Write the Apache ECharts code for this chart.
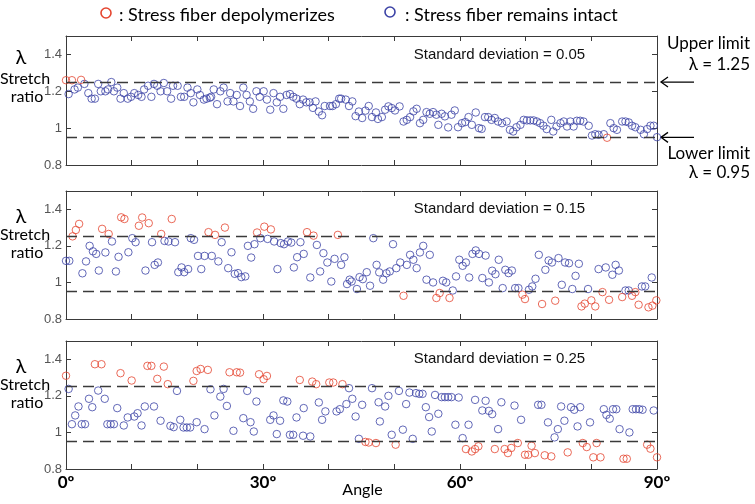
<!DOCTYPE html>
<html><head><meta charset="utf-8">
<script src="https://cdn.jsdelivr.net/npm/echarts@6/dist/echarts.min.js"></script>
<style>html,body{margin:0;padding:0;background:#fff}#c{width:755px;height:504px}</style>
</head><body><div id="c"></div><script>
// ---- data (angle in degrees, stretch ratio λ) ----
const upperLimit = 1.25;
const lowerLimit = 0.95;
const stdLabels = ['Standard deviation = 0.05', 'Standard deviation = 0.15', 'Standard deviation = 0.25'];
const angleTickLabels = ['0º', '30º', '60º', '90º'];
const legendLabels = [': Stress fiber depolymerizes', ': Stress fiber remains intact'];

const p1Red = [[0,1.26],[0.9,1.26],[2.3,1.262],[82.4,0.948]];
const p1Blue = [[0.4,1.185],[1.3,1.21],[1.8,1.22],[2.8,1.24],[3.4,1.19],[3.9,1.16],[4.4,1.16],[4.9,1.24],[5.3,1.2],[6.0,1.2],[6.4,1.21],[6.9,1.25],[7.3,1.2],[7.8,1.22],[8.3,1.16],[8.8,1.19],[9.4,1.16],[9.9,1.17],[10.4,1.19],[11.0,1.18],[11.5,1.17],[11.9,1.21],[12.5,1.23],[13.0,1.17],[13.4,1.24],[13.9,1.23],[14.4,1.2],[14.9,1.245],[15.4,1.2],[16.0,1.16],[16.3,1.23],[17.0,1.23],[17.5,1.17],[18.0,1.17],[18.5,1.22],[19.0,1.19],[19.4,1.14],[20.0,1.21],[20.4,1.18],[21.0,1.155],[21.4,1.16],[21.9,1.165],[22.1,1.17],[22.5,1.21],[23.0,1.13],[23.5,1.2],[24.0,1.22],[24.6,1.145],[25.0,1.19],[25.5,1.145],[26.0,1.18],[26.5,1.12],[27.0,1.22],[27.5,1.18],[28.0,1.145],[28.5,1.105],[29.0,1.2],[29.5,1.17],[30.1,1.2],[30.6,1.155],[31.1,1.1],[31.6,1.19],[32.1,1.14],[32.6,1.17],[33.1,1.105],[33.6,1.18],[34.1,1.185],[34.6,1.17],[35.1,1.16],[35.6,1.13],[36.1,1.155],[36.6,1.14],[37.1,1.14],[37.6,1.11],[38.0,1.145],[38.5,1.09],[39.0,1.07],[39.4,1.12],[40.2,1.12],[40.6,1.12],[41.1,1.13],[41.6,1.16],[41.9,1.16],[42.6,1.155],[43.1,1.12],[43.6,1.145],[44.1,1.065],[44.6,1.09],[45.1,1.055],[45.6,1.095],[46.1,1.12],[46.6,1.06],[47.2,1.085],[47.5,1.05],[48.1,1.06],[48.6,1.1],[49.1,1.118],[49.6,1.109],[50.1,1.096],[50.8,1.118],[51.4,1.036],[51.9,1.045],[52.4,1.06],[52.9,1.091],[53.4,1.105],[53.9,1.027],[54.4,1.045],[54.9,1.087],[55.4,1.078],[55.9,1.087],[56.4,1.073],[56.7,1.018],[57.2,1.078],[57.7,1.064],[58.2,1.004],[58.7,1.073],[59.2,1.096],[59.7,1.005],[60.3,1.027],[60.8,1.033],[61.3,1.06],[61.8,1.018],[62.4,1.085],[62.9,1.0],[63.3,0.996],[63.8,1.06],[64.3,1.06],[64.8,1.045],[65.3,1.055],[65.8,1.036],[66.4,1.027],[67.1,1.036],[67.6,0.991],[68.1,0.982],[68.6,1.005],[69.2,1.018],[69.7,1.045],[70.2,1.042],[70.7,1.042],[71.2,1.042],[71.7,1.036],[72.2,1.027],[72.7,1.013],[73.2,0.995],[73.9,1.045],[74.2,0.982],[74.7,1.009],[75.3,1.027],[75.8,1.036],[76.3,1.009],[76.8,1.036],[77.3,1.009],[77.8,1.04],[78.3,1.04],[78.8,1.036],[79.6,1.013],[80.1,0.96],[80.6,0.967],[81.1,0.964],[81.9,0.967],[82.9,1.027],[83.4,1.0],[83.9,0.991],[84.7,1.036],[85.2,1.036],[85.7,1.031],[86.2,1.013],[86.7,1.005],[87.5,0.991],[88.0,0.967],[88.5,0.995],[89.0,1.013],[89.5,1.013],[90.0,0.951]];

const p2Red = [[1.0,1.252],[1.5,1.287],[2.0,1.32],[5.5,1.293],[6.5,1.265],[8.4,1.356],[8.9,1.347],[11.1,1.31],[11.6,1.355],[12.6,1.324],[14.5,1.265],[16.1,1.347],[21.7,1.275],[22.7,1.26],[24.2,1.3],[29.1,1.273],[30.2,1.305],[31.2,1.29],[36.7,1.275],[37.7,1.256],[41.4,1.26],[51.4,0.927],[56.4,0.915],[56.9,0.942],[58.4,0.915],[69.5,0.933],[69.9,0.909],[72.5,0.882],[74.5,0.9],[78.5,0.869],[79.0,0.884],[80.0,0.902],[80.6,0.869],[81.7,0.947],[82.7,0.905],[84.7,0.92],[86.2,0.927],[86.7,0.947],[87.2,0.878],[88.7,0.864],[89.3,0.873],[89.9,0.902]];
const p2Blue = [[0,1.118],[0.5,1.118],[2.5,1.05],[3.05,1.115],[3.6,1.2],[4.1,1.17],[4.6,1.156],[5.0,1.065],[6.0,1.164],[7.0,1.224],[7.6,1.06],[8.0,1.14],[9.5,1.165],[10.1,1.242],[10.6,1.22],[12.1,1.065],[13.1,1.22],[13.5,1.096],[14.0,1.109],[15.0,1.227],[15.6,1.224],[16.6,1.22],[17.1,1.056],[17.6,1.082],[18.0,1.056],[18.6,1.073],[19.0,1.242],[19.5,1.233],[20.1,1.145],[20.6,1.073],[21.1,1.145],[22.2,1.145],[23.2,1.115],[23.7,1.22],[24.7,1.078],[25.2,1.165],[25.7,1.047],[26.2,1.051],[26.7,1.029],[27.3,1.033],[27.7,1.2],[28.2,1.136],[28.7,1.209],[29.6,1.242],[30.7,1.238],[31.7,1.224],[32.2,1.073],[32.7,1.215],[33.2,1.209],[33.8,1.224],[34.3,1.218],[34.7,1.082],[35.2,1.138],[35.7,1.22],[36.2,1.156],[37.2,1.027],[38.2,1.205],[38.7,1.06],[39.2,1.16],[39.8,1.109],[40.4,1.005],[40.9,1.129],[41.9,1.096],[42.4,1.138],[42.8,0.991],[43.2,1.015],[43.5,1.005],[44.3,0.964],[44.7,1.029],[45.2,1.018],[45.8,1.056],[46.3,0.982],[46.8,1.242],[47.3,1.096],[47.7,1.055],[48.3,1.015],[48.8,1.05],[49.3,1.06],[49.8,1.209],[50.3,1.078],[50.9,1.109],[51.9,1.096],[52.4,1.151],[52.9,1.124],[53.4,1.078],[53.9,1.164],[54.4,1.2],[54.9,1.015],[55.4,1.151],[55.9,1.0],[57.4,1.009],[57.9,1.0],[58.9,0.956],[59.4,1.033],[59.9,1.124],[60.4,1.091],[60.9,1.109],[61.4,1.027],[61.9,1.156],[62.4,1.175],[62.9,1.156],[63.4,1.024],[63.9,1.147],[64.4,1.0],[64.9,1.064],[65.4,1.045],[65.9,1.124],[66.5,0.969],[66.9,1.069],[67.4,1.051],[67.9,1.065],[68.4,0.969],[68.9,0.969],[70.5,0.96],[71.0,0.978],[71.5,1.02],[72.0,1.151],[73.0,1.069],[73.5,1.12],[74.0,1.109],[75.0,1.133],[75.5,0.987],[76.0,1.109],[76.6,1.105],[77.1,0.964],[77.6,1.036],[78.1,1.102],[79.5,0.964],[81.1,1.073],[82.2,1.082],[83.2,1.042],[83.7,1.096],[84.2,1.065],[85.2,0.956],[85.7,0.956],[87.7,0.978],[88.2,0.978],[89.2,1.027]];

const p3Red = [[0,1.31],[4.4,1.373],[5.4,1.373],[8.3,1.324],[10.0,1.284],[12.4,1.364],[13.0,1.364],[13.9,1.293],[14.9,1.36],[15.5,1.264],[19.4,1.282],[19.9,1.336],[20.5,1.347],[21.6,1.342],[24.9,1.329],[26.0,1.329],[26.5,1.327],[29.4,1.318],[30.1,1.291],[30.6,1.309],[35.6,1.287],[37.5,1.278],[38.1,1.264],[40.1,1.273],[40.7,1.273],[42.1,1.264],[45.6,0.948],[46.1,0.945],[47.2,0.942],[50.2,0.933],[60.9,0.909],[61.8,0.896],[62.3,0.909],[62.8,0.924],[65.3,0.909],[66.8,0.909],[67.3,0.887],[67.8,0.915],[68.8,0.942],[69.9,0.878],[70.4,0.878],[70.9,0.927],[71.4,0.887],[72.9,0.875],[73.9,0.869],[76.4,0.891],[78.7,0.942],[79.3,0.92],[80.3,0.864],[80.8,0.942],[81.4,0.864],[84.9,0.856],[85.4,0.856],[88.5,0.933],[89.0,0.911],[90.0,0.864]];
const p3Blue = [[0.4,1.238],[0.9,1.045],[1.4,1.093],[1.9,1.142],[2.4,1.045],[2.9,1.045],[3.5,1.184],[4.0,1.138],[4.9,1.229],[5.9,1.184],[6.3,1.045],[6.8,1.045],[7.3,1.045],[7.8,1.133],[8.8,1.038],[9.4,1.082],[10.4,1.087],[10.9,1.105],[11.5,1.038],[12.0,1.142],[13.4,1.142],[14.4,1.064],[15.9,1.036],[16.4,1.029],[16.9,1.227],[17.4,1.069],[17.9,1.027],[18.4,1.027],[18.9,1.027],[19.9,1.056],[21.1,1.018],[22.0,1.236],[22.6,1.093],[23.5,1.196],[24.0,1.238],[24.5,1.145],[25.5,1.009],[27.0,1.078],[27.6,1.227],[28.1,1.056],[28.6,1.005],[29.0,1.169],[31.1,1.069],[31.6,1.093],[32.1,0.991],[32.6,1.064],[33.1,1.175],[33.7,1.169],[34.1,0.987],[34.6,0.987],[35.1,1.082],[36.1,0.982],[36.2,1.133],[37.2,0.978],[38.5,1.164],[39.0,1.069],[39.5,1.115],[41.2,1.115],[41.7,1.127],[42.7,1.155],[43.1,1.242],[43.6,1.184],[44.1,1.087],[44.6,0.965],[45.1,1.151],[46.6,1.242],[47.6,1.165],[47.8,1.06],[48.6,1.142],[49.1,1.2],[49.6,0.987],[50.7,1.227],[51.3,1.015],[51.8,1.155],[52.3,1.218],[52.8,0.965],[53.3,1.215],[53.8,1.211],[54.3,1.211],[54.8,1.138],[55.3,1.084],[55.7,1.005],[56.2,1.205],[56.7,1.102],[57.2,1.193],[57.7,1.193],[58.2,1.193],[58.7,1.193],[59.3,1.042],[59.8,1.191],[60.4,0.969],[61.3,1.042],[62.3,1.178],[63.4,1.12],[63.9,1.173],[64.4,1.118],[64.9,1.1],[65.8,1.018],[66.3,1.165],[68.3,1.147],[69.3,1.069],[71.9,1.151],[72.4,1.151],[73.4,1.055],[74.4,0.973],[74.9,1.018],[75.4,1.142],[75.9,1.064],[76.9,1.138],[77.4,1.124],[77.9,1.033],[78.3,1.138],[79.8,1.055],[81.9,1.127],[82.3,1.096],[82.8,1.075],[83.3,1.127],[83.8,1.127],[84.3,1.018],[85.8,1.0],[86.3,1.127],[86.8,1.127],[87.3,1.127],[87.8,1.124],[89.5,1.12]];

const panelsRed = [p1Red, p2Red, p3Red];
const panelsBlue = [p1Blue, p2Blue, p3Blue];

// ---- styling ----
const RED = '#e5452f', BLUE = '#3c43a6', AXIS = '#3a3a3a';
const SANS = '"Liberation Sans", Arial, sans-serif';
const HUM = 'Lato, "Open Sans", sans-serif';
const gridTops = [36, 191, 341], gridH = [129, 128, 128];

const chart = echarts.init(document.getElementById('c'), null, {renderer: 'canvas'});

const grid = [], xAxis = [], yAxis = [], series = [];
for (let i = 0; i < 3; i++) {
  grid.push({left: 66, right: 98, top: gridTops[i], height: gridH[i], show: false});
  const isLast = i === 2;
  const xBase = {gridIndex: i, type: 'value', min: 0, max: 90, interval: 10,
    axisLine: {show: true, onZero: false, lineStyle: {color: AXIS, width: 1}},
    axisTick: {show: true, inside: true, length: 5, lineStyle: {color: AXIS}},
    splitLine: {show: false}};
  xAxis.push(Object.assign({}, xBase, {position: 'bottom',
    axisLabel: {show: isLast, margin: 5, color: '#000', fontFamily: HUM, fontWeight: 'bold', fontSize: 17,
      formatter: v => (v % 30 === 0 ? angleTickLabels[v / 30] : '')}}));
  xAxis.push(Object.assign({}, xBase, {position: 'top', axisLabel: {show: false}}));
  const yBase = {gridIndex: i, type: 'value', min: 0.8, max: 1.5, interval: 0.2,
    axisLine: {show: true, onZero: false, lineStyle: {color: AXIS, width: 1}},
    axisTick: {show: true, inside: true, length: 5, lineStyle: {color: AXIS}},
    splitLine: {show: false}};
  yAxis.push(Object.assign({}, yBase, {position: 'left',
    axisLabel: {show: true, margin: 4, color: '#555', fontFamily: SANS, fontSize: 13, showMaxLabel: false,
      formatter: v => { const r = Math.round(v * 10) / 10; return r > 1.45 ? '' : String(r); }}}));
  yAxis.push(Object.assign({}, yBase, {position: 'right', axisLabel: {show: false}}));

  const sym = (c) => ({symbol: 'circle', symbolSize: 7.5,
    itemStyle: {color: 'rgba(255,255,255,0)', borderColor: c, borderWidth: 1}});
  series.push(Object.assign({type: 'scatter', xAxisIndex: 2 * i, yAxisIndex: 2 * i, clip: false,
    silent: true, data: panelsBlue[i], z: 3,
    markLine: {silent: true, symbol: 'none', label: {show: false},
      lineStyle: {color: '#3a3a3a', type: [11, 6], width: 1.3},
      data: [{yAxis: upperLimit}, {yAxis: lowerLimit}]}}, sym(BLUE)));
  series.push(Object.assign({type: 'scatter', xAxisIndex: 2 * i, yAxisIndex: 2 * i, clip: false,
    silent: true, data: panelsRed[i], z: 4}, sym(RED)));
}

chart.setOption({animation: false, backgroundColor: '#fff', grid, xAxis, yAxis, series});

// ---- annotations placed with the chart's own coordinate conversion ----
const g = [];
// legend
g.push({type: 'circle', shape: {cx: 106, cy: 13, r: 5}, style: {fill: 'none', stroke: RED, lineWidth: 1.6}});
g.push({type: 'text', x: 119, y: 15, style: {text: legendLabels[0], font: '18px ' + HUM, fill: '#000', verticalAlign: 'middle'}});
g.push({type: 'circle', shape: {cx: 390, cy: 12, r: 5}, style: {fill: 'none', stroke: BLUE, lineWidth: 1.6}});
g.push({type: 'text', x: 405, y: 15, style: {text: legendLabels[1], font: '18px ' + HUM, fill: '#000', verticalAlign: 'middle'}});

for (let i = 0; i < 3; i++) {
  const p = chart.convertToPixel({gridIndex: i}, [66, 1.4]);
  g.push({type: 'text', x: p[0], y: p[1], style: {text: stdLabels[i], font: '15px ' + SANS, fill: '#111', align: 'center', verticalAlign: 'middle'}});
  const top = gridTops[i];
  g.push({type: 'text', x: 21, y: top + 22 + (i ? 4 : 0), style: {text: 'λ', font: '20px ' + HUM, fill: '#000', align: 'center', verticalAlign: 'middle'}});
  g.push({type: 'text', x: 25, y: top + 43 + (i ? 1 : 0), style: {text: 'Stretch', font: '16px ' + HUM, fill: '#000', align: 'center', verticalAlign: 'middle'}});
  g.push({type: 'text', x: 27, y: top + 61 + (i ? 1 : 0), style: {text: 'ratio', font: '16px ' + HUM, fill: '#000', align: 'center', verticalAlign: 'middle'}});
}

// limit annotations on the first panel
const up = chart.convertToPixel({gridIndex: 0}, [90, upperLimit]);
const lo = chart.convertToPixel({gridIndex: 0}, [90, lowerLimit]);
function arrow(pt) {
  const x0 = pt[0] + 4, x1 = pt[0] + 37, y = pt[1];
  g.push({type: 'line', shape: {x1: x0, y1: y, x2: x1, y2: y}, style: {stroke: '#000', lineWidth: 1.3}});
  g.push({type: 'polyline', shape: {points: [[x0 + 7, y - 5], [x0, y], [x0 + 7, y + 5]]}, style: {stroke: '#000', lineWidth: 1.3, fill: 'none'}});
}
arrow(up); arrow(lo);
g.push({type: 'text', x: 750, y: up[1] - 39, style: {text: 'Upper limit', font: '17px ' + HUM, fill: '#000', align: 'right', verticalAlign: 'middle'}});
g.push({type: 'text', x: 750, y: up[1] - 18, style: {text: 'λ = ' + upperLimit, font: '17px ' + HUM, fill: '#000', align: 'right', verticalAlign: 'middle'}});
g.push({type: 'text', x: 750, y: lo[1] + 16, style: {text: 'Lower limit', font: '17px ' + HUM, fill: '#000', align: 'right', verticalAlign: 'middle'}});
g.push({type: 'text', x: 750, y: lo[1] + 35, style: {text: 'λ = ' + lowerLimit, font: '17px ' + HUM, fill: '#000', align: 'right', verticalAlign: 'middle'}});
// x axis name
const mid = chart.convertToPixel({gridIndex: 2}, [45, 0.8]);
g.push({type: 'text', x: mid[0] + 1, y: mid[1] + 21, style: {text: 'Angle', font: '16px ' + HUM, fill: '#000', align: 'center', verticalAlign: 'middle'}});

chart.setOption({graphic: g});
</script></body></html>
